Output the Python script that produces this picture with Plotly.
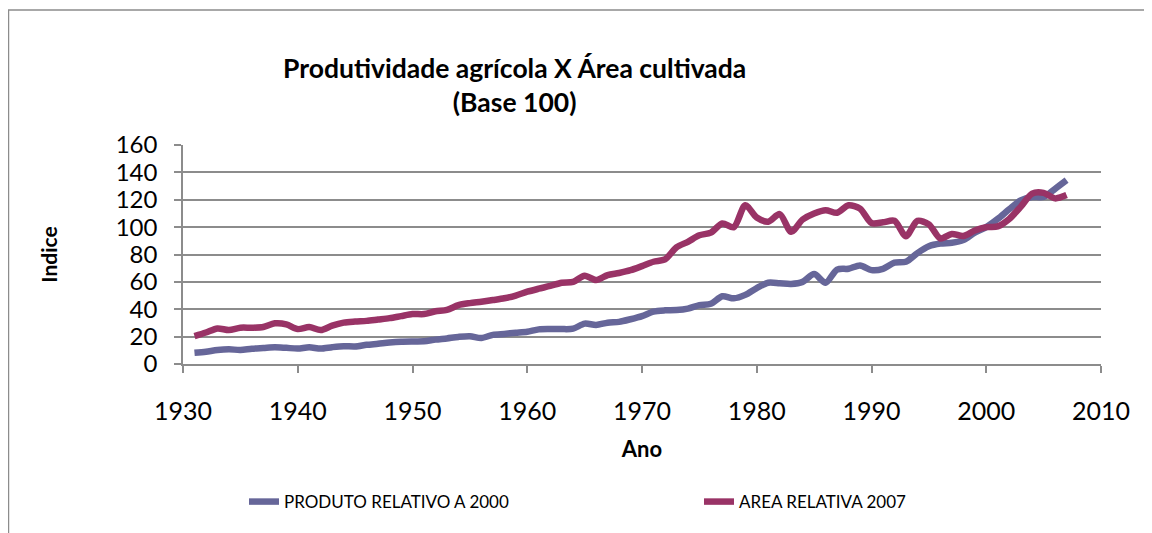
import plotly.graph_objects as go

years = list(range(1931, 2008))

produto = [8.2, 9.0, 10.2, 10.7, 10.3, 11.2, 11.7, 12.2, 11.8, 11.3,
           12.2, 11.3, 12.3, 13.0, 12.8, 14.0, 14.8, 15.7, 16.3, 16.5,
           16.6, 17.8, 18.7, 19.8, 20.3, 19.0, 21.3, 22.0, 22.8, 23.6,
           25.3, 25.5, 25.5, 25.8, 29.5, 28.5, 30.2, 30.8, 32.7, 35.0,
           38.3, 39.2, 39.4, 40.5, 43.0, 44.0, 49.5, 48.0, 50.5, 55.5,
           59.4, 59.0, 58.5, 60.0, 65.7, 59.4, 69.0, 69.6, 72.0, 68.6,
           69.5, 74.0, 74.7, 81.0, 86.0, 88.0, 88.6, 90.5, 96.0, 100.0,
           106.0, 113.0, 119.5, 122.0, 122.0, 128.0, 134.3]

area = [20.4, 23.0, 26.0, 24.8, 26.5, 26.5, 27.0, 29.7, 29.0, 25.5,
        27.0, 24.8, 28.0, 30.2, 31.0, 31.5, 32.5, 33.5, 35.0, 36.5,
        36.5, 38.5, 39.5, 43.0, 44.5, 45.5, 46.7, 48.0, 50.0, 52.8,
        55.0, 57.0, 59.4, 60.0, 64.5, 61.3, 65.0, 66.5, 68.5, 71.5,
        74.7, 76.4, 85.2, 89.3, 94.0, 96.0, 102.7, 100.0, 116.0, 107.0,
        104.0, 109.5, 96.6, 105.6, 110.0, 112.4, 110.5, 116.0, 113.5, 103.0,
        103.5, 104.6, 93.4, 104.6, 102.0, 91.7, 95.0, 93.5, 97.5, 100.0,
        100.5, 106.0, 114.8, 124.5, 125.0, 121.0, 123.4]

series_names = ["PRODUTO RELATIVO A 2000", "AREA RELATIVA 2007"]
series_colors = ["#666699", "#993366"]

x_ticks = [1930, 1940, 1950, 1960, 1970, 1980, 1990, 2000, 2010]
y_ticks = [0, 20, 40, 60, 80, 100, 120, 140, 160]

title_text = "Produtividade agrícola X Área cultivada<br>(Base 100)"
x_title = "Ano"
y_title = "Indice"

FONT = "Lato"
GRID = "#8c8c8c"

fig = go.Figure()
for name, vals, col in zip(series_names, [produto, area], series_colors):
    fig.add_trace(go.Scatter(
        x=years, y=vals, name=name, mode="lines",
        line=dict(color=col, width=6.5, shape="spline", smoothing=0.8),
    ))

fig.update_layout(
    width=1144, height=525,
    margin=dict(l=175, r=51, t=137, b=169, autoexpand=False),
    paper_bgcolor="white", plot_bgcolor="white",
    font=dict(family=FONT, color="black"),
    showlegend=True,
    legend=dict(
        orientation="h", xref="container", yref="container",
        x=0.2063, xanchor="left", y=0.059, yanchor="middle",
        font=dict(size=17, family=FONT, color="black"),
        entrywidth=410, entrywidthmode="pixels",
        itemwidth=30, tracegroupgap=0,
    ),
    annotations=[
        dict(text="<b>" + title_text.replace("<br>", "</b><br><b>") + "</b>",
             xref="paper", yref="paper", x=0.3606, y=1.2717,
             xanchor="center", yanchor="middle", showarrow=False,
             font=dict(size=26.5, family=FONT, color="black")),
    ],
    shapes=[
        dict(type="rect", xref="paper", yref="paper",
             x0=-0.1901, x1=1.07, y0=-0.85, y1=1.6164,
             line=dict(color="#8c8c8c", width=1.5), fillcolor="rgba(0,0,0,0)",
             layer="below"),
    ],
)

fig.update_xaxes(
    range=[1930, 2010], tickvals=x_ticks, ticktext=[str(v) for v in x_ticks],
    showgrid=False, showline=True, linecolor=GRID, linewidth=1.5,
    ticks="outside", ticklen=7, tickcolor=GRID, tickwidth=1.5,
    tickfont=dict(size=25, family=FONT, color="black"),
    ticklabelstandoff=17, automargin=False,
    title=dict(text="<b>" + x_title + "</b>", standoff=18,
               font=dict(size=22, family=FONT, color="black")),
    zeroline=False,
)
fig.update_yaxes(
    range=[0, 160], tickvals=y_ticks, ticktext=[str(v) for v in y_ticks],
    showgrid=True, gridcolor=GRID, gridwidth=1.5,
    showline=True, linecolor=GRID, linewidth=1.5,
    ticks="outside", ticklen=7, tickcolor=GRID, tickwidth=1.5,
    tickfont=dict(size=24, family=FONT, color="black"),
    ticklabelstandoff=12, automargin=False,
    title=dict(text="<b>" + y_title + "</b>", standoff=52,
               font=dict(size=21, family=FONT, color="black")),
    zeroline=False,
)

fig.write_html("out.html")
